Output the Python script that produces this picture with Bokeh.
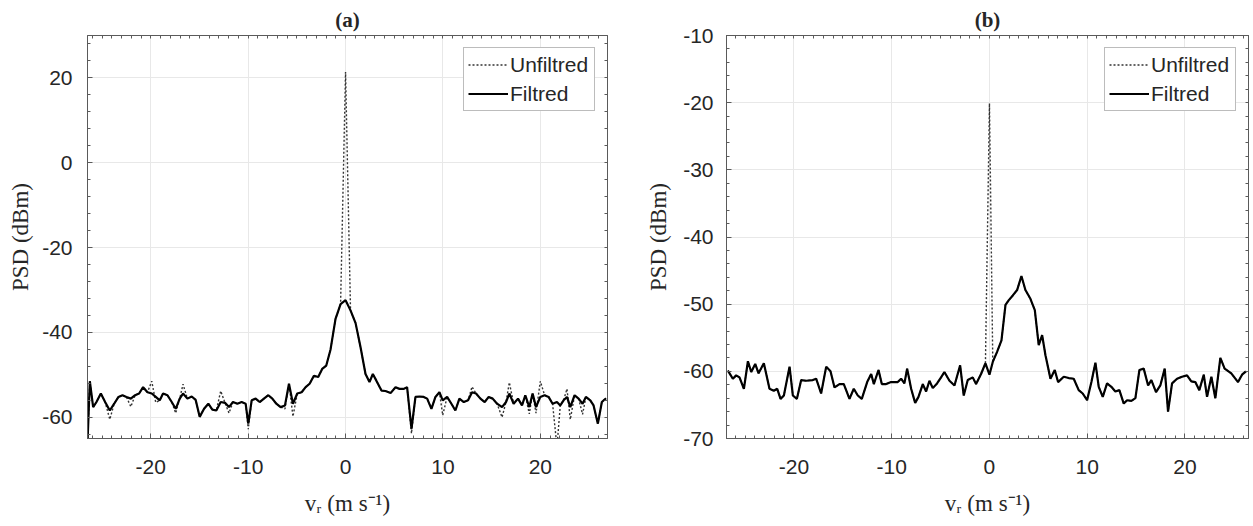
from bokeh.plotting import figure
from bokeh.models import (LinearAxis, SingleIntervalTicker, FixedTicker, Range1d,
                          PrintfTickFormatter)
from bokeh.layouts import row
from bokeh.embed import file_html
from bokeh.resources import INLINE

# ---------------- Panel (a) data ----------------
xa = [-26.5, -26.26, -25.92, -25.58, -25.13, -24.69, -24.21, -23.76, -23.32, -22.91,
      -22.50, -22.05, -21.61, -21.20, -20.79, -20.34, -19.90, -19.49, -19.08, -18.74,
      -18.29, -17.85, -17.44, -17.03, -16.69, -16.24, -15.80, -15.39, -14.98, -14.53,
      -14.09, -13.68, -13.27, -12.82, -12.38, -11.97, -11.56, -11.11, -10.67, -10.26,
      -9.99, -9.64, -9.23, -8.82, -8.38, -7.93, -7.52, -7.11, -6.67, -6.22,
      -5.81, -5.40, -4.96, -4.51, -4.10, -3.69, -3.25, -2.81, -2.40, -1.98,
      -1.54, -1.03, -0.51, 0.0, 0.51, 1.03, 1.54, 2.05, 2.46, 2.80,
      3.15, 3.69, 4.10, 4.62, 5.13, 5.54, 5.98, 6.32, 6.77, 7.18,
      7.59, 8.03, 8.38, 8.82, 9.23, 9.64, 9.98, 10.43, 10.87, 11.28,
      11.69, 12.14, 12.58, 12.99, 13.40, 13.85, 14.29, 14.70, 15.11, 15.56,
      16.07, 16.48, 16.82, 17.26, 17.71, 18.12, 18.46, 18.87, 19.21, 19.56,
      20.00, 20.44, 20.85, 21.26, 21.71, 22.05, 22.39, 22.74, 23.08, 23.52,
      23.93, 24.34, 24.68, 25.13, 25.47, 25.91, 26.32, 26.75]

ya_filt = [-66.0, -51.5, -57.6, -56.4, -54.4, -56.4, -58.4, -56.8, -55.2, -54.8,
           -55.2, -55.6, -54.8, -54.4, -52.9, -54.1, -54.4, -55.2, -56.0, -54.4,
           -54.8, -56.4, -58.0, -55.6, -54.4, -55.6, -55.1, -55.9, -59.9, -58.0,
           -56.8, -58.2, -58.4, -56.4, -56.6, -57.6, -56.4, -56.8, -56.4, -56.8,
           -61.5, -56.0, -55.6, -56.4, -55.6, -54.8, -55.6, -56.8, -57.6, -57.2,
           -52.1, -56.8, -54.4, -54.1, -52.9, -52.1, -50.2, -50.5, -48.6, -47.8,
           -44.0, -36.8, -33.3, -32.4, -34.8, -37.8, -43.5, -49.8, -51.7, -49.8,
           -51.3, -53.7, -53.8, -54.3, -52.9, -53.3, -53.3, -52.9, -62.7, -55.2,
           -55.1, -55.2, -55.6, -58.0, -55.2, -54.1, -56.0, -55.2, -56.8, -58.4,
           -55.6, -56.4, -56.0, -54.1, -54.4, -55.6, -56.4, -55.2, -55.6, -56.8,
           -57.6, -56.4, -54.4, -56.8, -55.6, -57.2, -54.8, -57.6, -54.4, -57.6,
           -55.2, -54.8, -55.2, -56.8, -56.4, -57.2, -56.0, -55.2, -57.6, -54.8,
           -55.6, -56.8, -55.2, -56.0, -57.2, -61.5, -56.4, -55.5]

ya_unf = [-66.0, -51.5, -57.6, -56.4, -54.4, -56.4, -60.5, -56.8, -55.2, -54.8,
          -55.2, -57.5, -54.8, -54.4, -52.9, -54.1, -51.5, -56.5, -56.0, -54.4,
          -54.8, -56.4, -59.0, -55.6, -52.2, -55.6, -55.1, -55.9, -59.9, -58.0,
          -56.8, -58.2, -58.4, -53.8, -56.6, -59.0, -56.4, -56.8, -56.4, -56.8,
          -62.8, -56.0, -55.6, -56.4, -55.6, -54.8, -55.6, -56.8, -57.6, -58.0,
          -52.1, -59.8, -54.4, -54.1, -52.9, -52.1, -50.2, -50.5, -48.6, -47.8,
          -44.0, -36.8, -33.3, 21.4, -34.8, -37.8, -43.5, -49.8, -51.7, -49.8,
          -51.3, -53.7, -53.8, -54.3, -52.9, -53.3, -53.3, -52.9, -63.8, -55.2,
          -55.1, -55.2, -55.6, -58.0, -55.2, -54.1, -59.5, -55.2, -56.8, -58.4,
          -55.6, -56.4, -56.0, -52.8, -54.4, -55.6, -56.4, -55.2, -55.6, -56.8,
          -60.0, -56.4, -51.8, -56.8, -55.6, -57.2, -54.8, -59.2, -54.4, -59.0,
          -51.5, -54.8, -55.2, -56.8, -67.0, -57.2, -56.0, -53.3, -60.5, -54.8,
          -55.6, -59.3, -55.2, -56.0, -57.2, -61.5, -56.4, -55.5]

# ---------------- Panel (b) data ----------------
xb = [-26.76, -26.25, -25.91, -25.57, -25.12, -24.71, -24.37, -23.96, -23.62, -23.08,
      -22.50, -22.06, -21.71, -21.37, -21.03, -20.45, -20.11, -19.70, -19.26, -18.75,
      -18.07, -17.73, -17.22, -16.70, -16.26, -15.85, -15.34, -14.90, -14.32, -13.88,
      -13.47, -13.06, -12.51, -12.10, -11.83, -11.35, -11.01, -10.57, -10.06, -9.38,
      -9.04, -8.70, -8.42, -8.01, -7.60, -7.26, -6.82, -6.48, -6.14, -5.80,
      -5.36, -4.95, -4.61, -4.09, -3.58, -3.00, -2.63, -2.22, -1.71, -1.37,
      -0.86, -0.41, 0.0, 0.34, 0.78, 1.23, 1.64, 1.98, 2.39, 2.83,
      3.27, 3.68, 4.19, 4.64, 5.04, 5.39, 5.73, 6.24, 6.68, 7.02,
      7.60, 8.11, 8.62, 9.13, 9.54, 9.99, 10.43, 10.84, 11.18, 11.59,
      12.03, 12.47, 12.88, 13.29, 13.74, 14.08, 14.52, 14.93, 15.34, 15.78,
      16.23, 16.56, 17.04, 17.48, 17.93, 18.27, 18.68, 19.19, 19.70, 20.21,
      20.65, 21.06, 21.47, 21.92, 22.26, 22.70, 23.11, 23.62, 24.06, 24.74,
      25.43, 25.84, 26.24]

yb_filt = [-59.9, -61.1, -60.6, -60.9, -62.6, -58.5, -60.1, -58.9, -60.3, -58.8,
           -62.6, -62.9, -62.6, -64.1, -63.6, -59.3, -63.6, -64.1, -61.3, -61.4,
           -61.3, -61.1, -63.3, -59.3, -60.0, -62.4, -61.9, -61.9, -64.1, -62.6,
           -63.6, -64.1, -61.6, -60.4, -61.9, -59.8, -61.9, -61.9, -61.6, -61.6,
           -61.1, -61.8, -59.6, -62.6, -64.7, -63.8, -61.9, -63.0, -61.4, -62.5,
           -61.8, -60.9, -60.1, -61.4, -62.1, -59.1, -63.6, -61.3, -60.9, -61.9,
           -60.4, -58.8, -60.5, -58.6, -57.1, -55.4, -50.1, -49.4, -48.7, -47.9,
           -45.8, -47.9, -49.2, -50.9, -56.1, -54.6, -57.6, -61.1, -59.8, -61.6,
           -60.8, -61.0, -61.1, -62.8, -63.3, -64.3, -61.6, -58.7, -62.3, -63.8,
           -61.8, -62.3, -63.0, -62.8, -64.8, -64.3, -64.4, -64.0, -59.8, -59.6,
           -62.1, -61.3, -63.1, -62.1, -59.6, -66.0, -61.8, -61.1, -60.8, -60.6,
           -61.5, -61.6, -62.8, -60.5, -63.8, -60.8, -64.0, -58.0, -59.6, -60.3,
           -61.6, -60.5, -60.0]

yb_unf = [-59.9, -61.1, -60.6, -60.9, -62.6, -58.5, -60.1, -58.9, -60.3, -58.8,
          -62.6, -62.9, -62.6, -64.1, -63.6, -59.3, -63.6, -64.1, -61.3, -61.4,
          -61.3, -61.1, -63.3, -59.3, -60.0, -62.4, -61.9, -61.9, -64.1, -62.6,
          -63.6, -64.1, -61.6, -60.4, -61.9, -59.8, -61.9, -61.9, -61.6, -61.6,
          -61.1, -61.8, -59.6, -62.6, -64.7, -63.8, -61.9, -63.0, -61.4, -62.5,
          -61.8, -60.9, -60.1, -61.4, -62.1, -59.1, -63.6, -61.3, -60.9, -61.9,
          -60.4, -58.8, -20.1, -58.6, -57.1, -55.4, -50.1, -49.4, -48.7, -47.9,
          -45.8, -47.9, -49.2, -50.9, -56.1, -54.6, -57.6, -61.1, -59.8, -61.6,
          -60.8, -61.0, -61.1, -62.8, -63.3, -64.3, -61.6, -58.7, -62.3, -63.8,
          -61.8, -62.3, -63.0, -62.8, -64.8, -64.3, -64.4, -64.0, -59.8, -59.6,
          -62.1, -61.3, -63.1, -62.1, -59.6, -66.0, -61.8, -61.1, -60.8, -60.6,
          -61.5, -61.6, -62.8, -60.5, -63.8, -60.8, -64.0, -58.0, -59.6, -60.3,
          -61.6, -60.5, -60.0]

series_labels = ["Unfiltred", "Filtred"]
panel_titles = ["(a)", "(b)"]
x_label = "v\u1d63 (m s\u207b\u00b9)"
y_label = "PSD (dBm)"

AX_COL = "#5a5a5a"
TXT_COL = "#262626"
SANS = "Liberation Sans"
SERIF = "Liberation Serif"


def style_axis(ax):
    ax.axis_line_color = AX_COL
    ax.axis_line_width = 1
    ax.major_tick_line_color = AX_COL
    ax.minor_tick_line_color = AX_COL
    ax.major_tick_in = 5
    ax.major_tick_out = 0
    ax.minor_tick_in = 3
    ax.minor_tick_out = 0
    ax.major_label_text_font = SANS
    ax.major_label_text_color = TXT_COL
    ax.major_label_text_font_size = "21px"
    ax.axis_label_text_font = SERIF
    ax.axis_label_text_font_style = "normal"
    ax.axis_label_text_font_size = "23px"
    ax.axis_label_text_color = TXT_COL


def tick_only_axis(positions):
    # box edge axis (top / right): inward ticks only, no labels
    ax = LinearAxis(ticker=FixedTicker(ticks=[], minor_ticks=positions))
    ax.axis_line_color = AX_COL
    ax.minor_tick_line_color = AX_COL
    ax.minor_tick_in = 3
    ax.minor_tick_out = 0
    ax.major_tick_in = 0
    ax.major_tick_out = 0
    ax.major_label_standoff = 0
    return ax


def make_panel(x, y_unf, y_filt, title, xr, yr, yint, w, h, bl, br, bt, bb,
               ylab_standoff, ytick_standoff):
    p = figure(width=w, height=h, output_backend="svg",
               toolbar_location=None, x_range=Range1d(*xr), y_range=Range1d(*yr),
               min_border_left=bl, min_border_right=br, min_border_top=bt,
               min_border_bottom=bb, title=title)
    p.title.align = "center"
    p.title.text_font = SERIF
    p.title.text_font_size = "21px"
    p.title.text_font_style = "bold"
    p.title.text_color = TXT_COL
    p.title.standoff = 8

    xt = SingleIntervalTicker(interval=10, num_minor_ticks=10)
    yt = SingleIntervalTicker(interval=yint, num_minor_ticks=5)
    p.xaxis.ticker = xt
    p.yaxis.ticker = yt
    p.xaxis.formatter = PrintfTickFormatter(format="%d")
    p.yaxis.formatter = PrintfTickFormatter(format="%d")
    p.xgrid.ticker = xt
    p.ygrid.ticker = yt
    p.grid.grid_line_color = "#e8e8e8"
    p.grid.grid_line_width = 1

    style_axis(p.xaxis[0])
    style_axis(p.yaxis[0])
    p.xaxis.axis_label = x_label
    p.yaxis.axis_label = y_label
    p.xaxis.major_label_standoff = 21
    p.xaxis.axis_label_standoff = 14
    p.yaxis.major_label_standoff = ytick_standoff
    p.yaxis.axis_label_standoff = ylab_standoff

    ystep = yint / 5
    xpos = [float(k) for k in range(int(xr[0]) - 1, int(xr[1]) + 2)]
    n0 = int(yr[0] / ystep) - 1
    n1 = int(yr[1] / ystep) + 1
    ypos = [k * ystep for k in range(n0, n1 + 1)]
    p.add_layout(tick_only_axis(xpos), "above")
    p.add_layout(tick_only_axis(ypos), "right")

    p.outline_line_color = AX_COL

    p.line(x, y_unf, line_color="#333333", line_width=1.4, line_dash="2 2",
           legend_label=series_labels[0])
    p.line(x, y_filt, line_color="#000000", line_width=2.2,
           legend_label=series_labels[1])

    lg = p.legend[0]
    lg.location = "top_right"
    lg.margin = 12
    lg.padding = 4
    lg.spacing = 4
    lg.label_text_font = SANS
    lg.label_text_font_size = "21px"
    lg.label_text_color = TXT_COL
    lg.glyph_width = 40
    lg.glyph_height = 25
    lg.label_height = 25
    lg.label_standoff = 2
    lg.label_width = 80
    lg.border_line_color = "#7a7a7a"
    lg.border_line_width = 1
    lg.background_fill_color = "white"
    lg.background_fill_alpha = 1.0
    return p


# frame a: 520 x 405 at (87, 33) ; frame b: 522 x 403 at (726, 35)
pa = make_panel(xa, ya_unf, ya_filt, panel_titles[0], (-26.5, 26.9), (-65, 30), 20,
                620, 526, 87, 13, 33, 88, 6, 15)
pb = make_panel(xb, yb_unf, yb_filt, panel_titles[1], (-26.9, 26.5), (-70, -10), 10,
                633, 526, 106, 5, 35, 88, 9, 13)

layout = row(pa, pb)
open("out.html", "w").write(file_html(layout, INLINE))
